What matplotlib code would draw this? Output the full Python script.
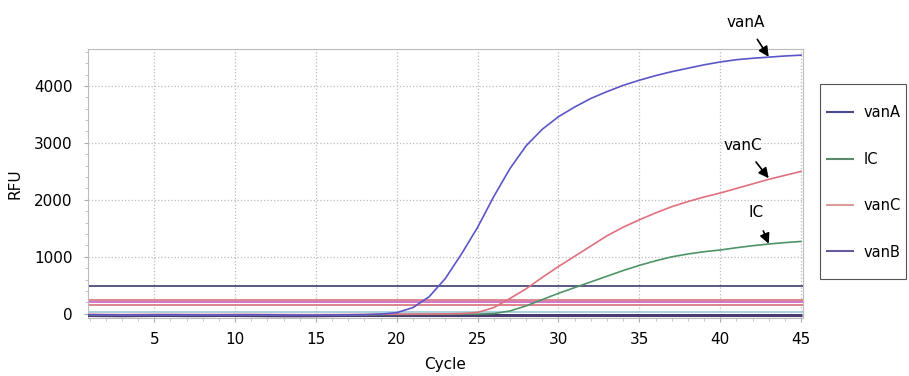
import matplotlib.pyplot as plt
from matplotlib.ticker import MultipleLocator
from matplotlib.patches import Rectangle

plt.rcParams['font.family'] = ['DejaVu Sans']

cycles = list(range(1, 46))

vanA = [-15, -18, -20, -20, -18, -17, -18, -20, -20, -19, -18, -18, -20, -22, -22, -20, -18, -15, -5, 20,
        110, 300, 620, 1050, 1520, 2060, 2550, 2950, 3240, 3460, 3630, 3780, 3900, 4010, 4100, 4180, 4250, 4310,
        4370, 4420, 4460, 4485, 4505, 4525, 4540]
IC = [-20, -22, -22, -20, -18, -18, -20, -20, -20, -18, -18, -20, -22, -24, -25, -22, -20, -18, -15, -12,
      -10, -10, -8, -6, -5, 5, 50, 140, 250, 360, 460, 560, 660, 760, 850, 930, 1000, 1050,
      1090, 1120, 1160, 1195, 1225, 1250, 1270]
vanC = [-10, -12, -14, -12, -10, -10, -12, -12, -12, -10, -10, -12, -14, -15, -15, -14, -12, -10, -8, -6,
        -5, -4, -2, 5, 25, 110, 270, 440, 640, 830, 1010, 1190, 1370, 1520, 1650, 1770, 1880, 1970,
        2050, 2120, 2200, 2280, 2360, 2430, 2500]
vanB = [-30, -32, -34, -32, -30, -30, -32, -32, -30, -30, -32, -34, -35, -35, -34, -32, -30, -30, -30, -30,
        -30, -30, -30, -30, -30, -30, -30, -30, -30, -30, -30, -30, -30, -30, -30, -30, -30, -30,
        -30, -30, -30, -30, -30, -30, -30]

thresholds = [480, 250, 200, 150, 35]
threshold_colors = ['#3c3c6e', '#d8707c', '#c860c0', '#d8707c', '#9cc8d8']

fig, ax = plt.subplots(figsize=(9.09, 3.76), dpi=100)
fig.subplots_adjust(left=0.0968, right=0.883, bottom=0.154, top=0.870)

for t, c in zip(thresholds, threshold_colors):
    ax.axhline(t, color=c, lw=1.2, zorder=2)

ax.plot(cycles, vanB, color='#4a3c70', lw=2.2, zorder=3)
ax.plot(cycles, IC, color='#4f9468', lw=1.2, zorder=4)
ax.plot(cycles, vanC, color='#e0707e', lw=1.2, zorder=4)
ax.plot(cycles, vanA, color='#5a56c8', lw=1.2, zorder=4)

# legend box drawn by hand, legend entries placed inside
legend_names = ['vanA', 'IC', 'vanC', 'vanB']
legend_colors = ['#4a4a8a', '#5a8a6a', '#e09a9a', '#6a5a9a']
fig.patches.append(Rectangle((820 / 909, 1 - 279 / 376), 86 / 909, 195 / 376,
                             transform=fig.transFigure, fill=False, edgecolor='#555555', lw=0.8))
handles = [plt.Line2D([], [], color=c, lw=1.5) for c in legend_colors]
fig.legend(handles, legend_names, loc='center left', bbox_to_anchor=(827 / 909, 1 - 182.5 / 376),
           frameon=False, fontsize=10.5, labelspacing=2.15, handlelength=1.8,
           handletextpad=0.7, borderpad=0, borderaxespad=0)

# annotations: label, text position, arrow tip
notes = [('vanA', 41.6, 5120, 43.0, 4510),
         ('vanC', 41.4, 2960, 43.0, 2380),
         ('IC', 42.2, 1770, 43.0, 1230)]
for name, tx, ty, px, py in notes:
    ax.annotate(name, xy=(px, py), xytext=(tx, ty), ha='center', va='center', fontsize=11,
                annotation_clip=False,
                arrowprops=dict(arrowstyle='-|>', color='black', lw=1.2, mutation_scale=15,
                                shrinkA=6, shrinkB=0))

ax.set_xlim(0.9, 45.1)
ax.set_ylim(-75, 4650)
ax.set_xticks(range(5, 46, 5))
ax.set_yticks(range(0, 4001, 1000))
ax.xaxis.set_minor_locator(MultipleLocator(1))
ax.yaxis.set_minor_locator(MultipleLocator(200))
ax.tick_params(axis='both', which='major', labelsize=11, length=3, color='#aaaaaa')
ax.tick_params(axis='x', which='major', pad=7)
ax.tick_params(axis='y', which='major', pad=8)
ax.tick_params(axis='both', which='minor', length=2, color='#bbbbbb')
ax.grid(True, which='major', color='#bbbbbb', ls=':', lw=0.9)
for s in ax.spines.values():
    s.set_color('#bbbbbb')

ax.set_xlabel('Cycle', fontsize=11, labelpad=7)
ax.set_ylabel('RFU', fontsize=11, labelpad=8)

plt.savefig('out.png')
